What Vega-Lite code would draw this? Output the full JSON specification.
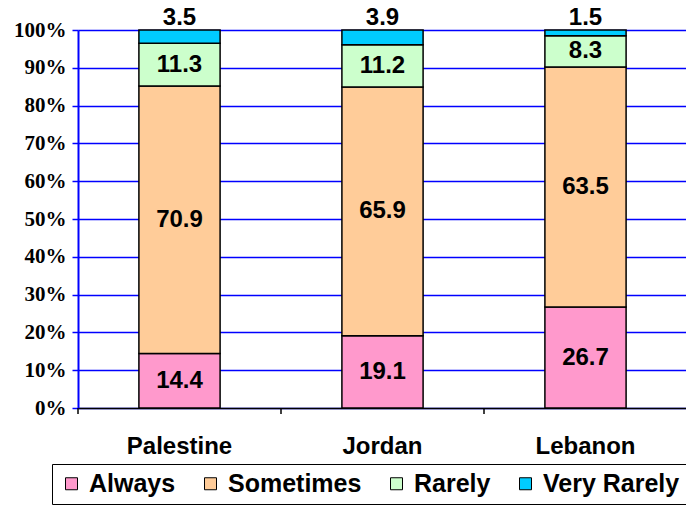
{
  "$schema": "https://vega.github.io/schema/vega-lite/v6.json",
  "width": 609,
  "height": 378,
  "autosize": "none",
  "padding": {"left": 78, "top": 30, "right": 0, "bottom": 97},
  "background": "white",
  "config": {
    "view": {"stroke": null},
    "font": "Liberation Sans"
  },
  "data": {
    "values": [
      {"country": "Palestine", "cat": "Always", "ord": 1, "v": 14.4},
      {"country": "Palestine", "cat": "Sometimes", "ord": 2, "v": 70.9},
      {"country": "Palestine", "cat": "Rarely", "ord": 3, "v": 11.3},
      {"country": "Palestine", "cat": "Very Rarely", "ord": 4, "v": 3.5},
      {"country": "Jordan", "cat": "Always", "ord": 1, "v": 19.1},
      {"country": "Jordan", "cat": "Sometimes", "ord": 2, "v": 65.9},
      {"country": "Jordan", "cat": "Rarely", "ord": 3, "v": 11.2},
      {"country": "Jordan", "cat": "Very Rarely", "ord": 4, "v": 3.9},
      {"country": "Lebanon", "cat": "Always", "ord": 1, "v": 26.7},
      {"country": "Lebanon", "cat": "Sometimes", "ord": 2, "v": 63.5},
      {"country": "Lebanon", "cat": "Rarely", "ord": 3, "v": 8.3},
      {"country": "Lebanon", "cat": "Very Rarely", "ord": 4, "v": 1.5}
    ]
  },
  "encoding": {
    "x": {
      "field": "country", "type": "nominal", "sort": ["Palestine", "Jordan", "Lebanon"],
      "scale": {"paddingInner": 0.6, "paddingOuter": 0.3},
      "axis": {
        "title": null, "orient": "bottom", "labelAngle": 0, "ticks": false,
        "domain": true, "domainColor": "black", "domainWidth": 1.5,
        "labelFont": "Liberation Sans", "labelFontSize": 24, "labelFontWeight": "bold", "labelColor": "black",
        "labelPadding": 26, "grid": false
      }
    }
  },
  "layer": [
    {
      "mark": {"type": "bar", "stroke": "black", "strokeWidth": 1.5},
      "encoding": {
        "y": {
          "field": "v", "type": "quantitative", "stack": "normalize",
          "scale": {"domain": [0, 1], "nice": false},
          "axis": {
            "title": null, "format": ".0%", "values": [0, 0.1, 0.2, 0.3, 0.4, 0.5, 0.6, 0.7, 0.8, 0.9, 1],
            "labelOverlap": false,
            "grid": true, "gridColor": "#0000FF", "gridWidth": 1.5, "gridOpacity": 1,
            "domainColor": "#0000FF", "domainWidth": 2, "tickColor": "#0000FF", "tickSize": 6, "tickWidth": 1.5,
            "labelFont": "Liberation Serif", "labelFontSize": 21, "labelFontWeight": "bold", "labelColor": "black",
            "labelPadding": 6
          }
        },
        "order": {"field": "ord", "type": "quantitative"},
        "color": {
          "field": "cat", "type": "nominal",
          "scale": {"domain": ["Always", "Sometimes", "Rarely", "Very Rarely"], "range": ["#FF99CC", "#FFCC99", "#CCFFCC", "#00CCFF"]},
          "legend": {
            "title": null, "orient": "none", "legendX": -26, "legendY": 434, "direction": "horizontal",
            "columns": 4, "symbolType": "square", "symbolSize": 144, "symbolStrokeColor": "black", "symbolStrokeWidth": 1,
            "labelFont": "Liberation Sans", "labelFontSize": 25, "labelFontWeight": "bold", "labelColor": "black",
            "labelOffset": 5, "columnPadding": 22, "padding": 7, "strokeColor": "black",
            "fillColor": "white", "symbolOpacity": 1
          }
        }
      }
    },
    {
      "transform": [{"filter": "datum.cat === 'Always'"}],
      "mark": {"type": "rule", "color": "black", "strokeWidth": 1.5},
      "encoding": {
        "x": {"field": "country", "type": "nominal", "sort": ["Palestine", "Jordan", "Lebanon"], "bandPosition": -0.75},
        "y": {
          "datum": 0, "type": "quantitative",
          "axis": {
            "title": null, "format": ".0%", "values": [0, 0.1, 0.2, 0.3, 0.4, 0.5, 0.6, 0.7, 0.8, 0.9, 1],
            "labelOverlap": false,
            "grid": true, "gridColor": "#0000FF", "gridWidth": 1.5, "gridOpacity": 1,
            "domainColor": "#0000FF", "domainWidth": 2, "tickColor": "#0000FF", "tickSize": 6, "tickWidth": 1.5,
            "labelFont": "Liberation Serif", "labelFontSize": 21, "labelFontWeight": "bold", "labelColor": "black",
            "labelPadding": 6
          }
        },
        "y2": {"datum": -0.016}
      }
    },
    {
      "mark": {"type": "text", "font": "Liberation Sans", "fontSize": 24, "fontWeight": "bold", "color": "black", "baseline": "middle"},
      "encoding": {
        "y": {
          "field": "v", "type": "quantitative", "stack": "normalize", "bandPosition": 0.5,
          "axis": {
            "title": null, "format": ".0%", "values": [0, 0.1, 0.2, 0.3, 0.4, 0.5, 0.6, 0.7, 0.8, 0.9, 1],
            "labelOverlap": false,
            "grid": true, "gridColor": "#0000FF", "gridWidth": 1.5, "gridOpacity": 1,
            "domainColor": "#0000FF", "domainWidth": 2, "tickColor": "#0000FF", "tickSize": 6, "tickWidth": 1.5,
            "labelFont": "Liberation Serif", "labelFontSize": 21, "labelFontWeight": "bold", "labelColor": "black",
            "labelPadding": 6
          }
        },
        "order": {"field": "ord", "type": "quantitative"},
        "text": {"condition": {"test": "datum.cat === 'Very Rarely'", "value": ""}, "field": "v", "type": "quantitative", "format": ".1f"}
      }
    },
    {
      "transform": [{"filter": "datum.cat === 'Very Rarely'"}],
      "mark": {"type": "text", "font": "Liberation Sans", "fontSize": 24, "fontWeight": "bold", "color": "black", "baseline": "middle", "dy": -12},
      "encoding": {
        "y": {
          "datum": 1, "type": "quantitative",
          "axis": {
            "title": null, "format": ".0%", "values": [0, 0.1, 0.2, 0.3, 0.4, 0.5, 0.6, 0.7, 0.8, 0.9, 1],
            "labelOverlap": false,
            "grid": true, "gridColor": "#0000FF", "gridWidth": 1.5, "gridOpacity": 1,
            "domainColor": "#0000FF", "domainWidth": 2, "tickColor": "#0000FF", "tickSize": 6, "tickWidth": 1.5,
            "labelFont": "Liberation Serif", "labelFontSize": 21, "labelFontWeight": "bold", "labelColor": "black",
            "labelPadding": 6
          }
        },
        "text": {"field": "v", "type": "quantitative", "format": ".1f"}
      }
    }
  ]
}
